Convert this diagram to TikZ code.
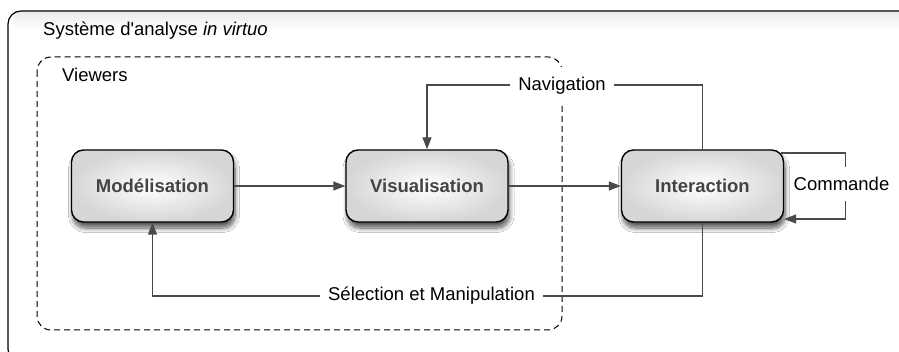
\documentclass[tikz,border=0pt]{standalone}
\usepackage{fontspec}
\setmainfont{Liberation Sans}[Ligatures=TeXOff]
\usetikzlibrary{arrows.meta,calc,shadows.blur}
\definecolor{linegray}{HTML}{4A4A4A}
\definecolor{txtgray}{HTML}{444444}
\begin{document}
\begin{tikzpicture}[x=1pt,y=-1pt,
  box/.style={draw=black, line width=1.4pt, rounded corners=12pt,
    minimum width=162pt, minimum height=72pt, inner color=white, outer color=black!16,
    font=\fontsize{18.5}{22}\selectfont\bfseries, text=txtgray,
    blur shadow={shadow xshift=1.5pt, shadow yshift=-6pt, shadow blur radius=4.5pt, shadow blur steps=10, shadow opacity=65}},
  arr/.style={draw=linegray, line width=1.4pt, -{Triangle[length=12pt,width=9pt]}},
  ln/.style={draw=linegray, line width=1.4pt},
  lbl/.style={fill=white, font=\fontsize{18.5}{22}\selectfont, inner xsep=8pt, inner ysep=10.5pt},
  plain/.style={font=\fontsize{18.5}{22}\selectfont, inner sep=0pt, anchor=west},
  frame/.style={draw=black, line width=1.2pt, rounded corners=13pt},
  dframe/.style={draw=black, line width=1pt, dash pattern=on 6pt off 4pt, rounded corners=14pt}
]
\useasboundingbox (0,0) rectangle (899,352);
\clip (0,0) rectangle (899,352);
\fill[white] (0,0) rectangle (899,352);
% outer frame
\shade[top color=black!8, bottom color=white] (14,12) rectangle (899,30);
\draw[frame] (8,11) rectangle (940,362);
\node[plain] (title) at (43,31) {Système d'analyse \textit{in virtuo}};
% dashed viewers frame
\draw[dframe] (37,57) rectangle (562,330);
\node[plain] (viewers) at (62,75) {Viewers};
% boxes
\node[box] (mod) at (152.5,186) {Modélisation};
\node[box] (vis) at (427,186) {Visualisation};
\node[box] (inter) at (702.5,186) {Interaction};
% helper levels
\coordinate (navy) at (0,85);
\coordinate (sely) at (0,296);
% connectors
\draw[arr] (mod.east) -- (vis.west);
\draw[arr] (vis.east) -- (inter.west);
\draw[arr] (inter.north) -- (inter.north |- navy) -- (vis.north |- navy) -- (vis.north);
\draw[arr] (inter.south) -- (inter.south |- sely) -- (mod.south |- sely) -- (mod.south);
\draw[arr] ($(inter.east)+(-3,-33)$) -- ($(inter.east)+(61.5,-33)$) -- ($(inter.east)+(61.5,33)$) -- ($(inter.east)+(0,33)$);
% labels
\node[lbl] (navlbl) at (562,86) {Navigation};
\node[lbl] (sellbl) at (431.5,296) {Sélection et Manipulation};
\node[lbl, inner xsep=3pt] (cmdlbl) at (841.5,184) {Commande};
\end{tikzpicture}
\end{document}
